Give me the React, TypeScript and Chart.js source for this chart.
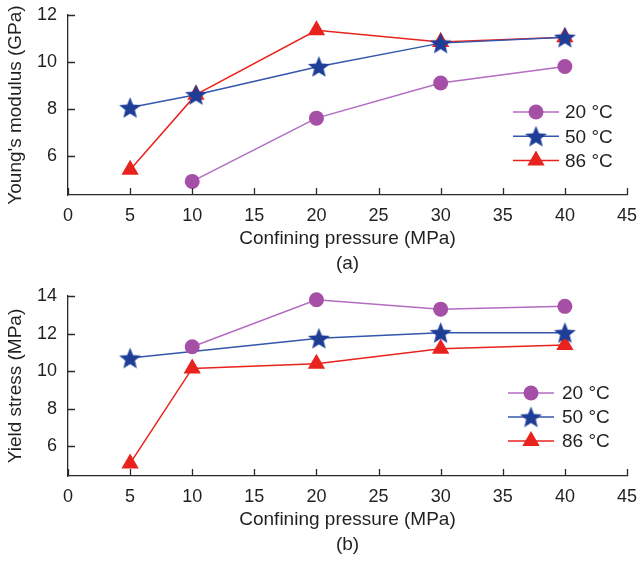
import React, { useEffect, useRef } from 'react';
import { Chart, registerables } from 'chart.js';
Chart.register(...registerables);

// ---------- data ----------
const xTicks = [0, 5, 10, 15, 20, 25, 30, 35, 40, 45];
const seriesLabels = ['20 °C', '50 °C', '86 °C'];

// (a) Young's modulus (GPa)
const pressA20 = [10, 20, 30, 40];
const youngA20 = [4.9, 7.6, 9.1, 9.8];
const pressA50 = [5, 10.3, 20.2, 30, 40];
const youngA50 = [8.05, 8.6, 9.8, 10.8, 11.05];
const pressA86 = [5, 10.3, 20, 30, 40];
const youngA86 = [5.4, 8.6, 11.35, 10.85, 11.05];
const yTicksA = [6, 8, 10, 12];

// (b) Yield stress (MPa)
const pressB20 = [10, 20, 30, 40];
const yieldB20 = [11.3, 13.8, 13.3, 13.45];
const pressB50 = [5, 20.2, 30, 40];
const yieldB50 = [10.7, 11.75, 12.05, 12.05];
const pressB86 = [5, 10, 20, 30, 40];
const yieldB86 = [5.1, 10.15, 10.4, 11.2, 11.4];
const yTicksB = [6, 8, 10, 12, 14];

// ---------- styles ----------
const FONT = "'Liberation Sans', Arial, Helvetica, sans-serif";
const TEXT = '#231f20';
const AXIS = '#2a2a2a';
const PURPLE_FILL = '#a54fa6';
const PURPLE_LINE = '#b36cc1';
const BLUE_FILL = '#1d3d97';
const BLUE_LINE = '#3456ab';
const RED = '#e8231d';
const TICK_SIZE = 18;
const TITLE_SIZE = 19;

function makeStar(color: string, R: number, r: number) {
  const c = document.createElement('canvas');
  const s = Math.ceil(R * 2 + 2);
  c.width = s;
  c.height = s;
  const ctx = c.getContext('2d')!;
  const cx = s / 2;
  const cy = s / 2 + 1;
  ctx.beginPath();
  for (let i = 0; i < 10; i++) {
    const a = -Math.PI / 2 + (i * Math.PI) / 5;
    const rad = i % 2 === 0 ? R : r;
    const px = cx + Math.cos(a) * rad;
    const py = cy + Math.sin(a) * rad;
    if (i === 0) ctx.moveTo(px, py);
    else ctx.lineTo(px, py);
  }
  ctx.closePath();
  ctx.fillStyle = color;
  ctx.fill();
  return c;
}

const inwardTicks = {
  id: 'inwardTicks',
  afterDraw(chart: any, _args: any, opts: any) {
    const { ctx, chartArea } = chart;
    const xs = chart.scales.x;
    const ys = chart.scales.y;
    const len = opts.length || 7;
    ctx.save();
    ctx.strokeStyle = AXIS;
    ctx.lineWidth = 1.3;
    ctx.beginPath();
    xs.ticks.forEach((t: any) => {
      const px = Math.round(xs.getPixelForValue(t.value)) + 0.5;
      ctx.moveTo(px, chartArea.bottom);
      ctx.lineTo(px, chartArea.bottom - len);
    });
    ys.ticks.forEach((t: any) => {
      const py = Math.round(ys.getPixelForValue(t.value)) + 0.5;
      ctx.moveTo(chartArea.left, py);
      ctx.lineTo(chartArea.left + len, py);
    });
    ctx.stroke();
    ctx.restore();
  },
};

const lineLegend = {
  id: 'lineLegend',
  afterDraw(chart: any, _args: any, opts: any) {
    const { ctx } = chart;
    const { x, y, dy, lineLen, textGap } = opts;
    ctx.save();
    chart.data.datasets.forEach((ds: any, i: number) => {
      const cy = y + i * dy;
      ctx.strokeStyle = ds.borderColor;
      ctx.lineWidth = ds.borderWidth;
      ctx.beginPath();
      ctx.moveTo(x, cy);
      ctx.lineTo(x + lineLen, cy);
      ctx.stroke();
      const mx = x + lineLen / 2;
      const style = ds.pointStyle;
      ctx.fillStyle = ds.pointBackgroundColor;
      if (style === 'circle') {
        ctx.beginPath();
        ctx.arc(mx, cy, ds.pointRadius, 0, Math.PI * 2);
        ctx.fill();
      } else if (style === 'triangle') {
        const r = ds.pointRadius;
        ctx.beginPath();
        ctx.moveTo(mx, cy - r);
        ctx.lineTo(mx + Math.sin((2 * Math.PI) / 3) * r, cy + r / 2);
        ctx.lineTo(mx - Math.sin((2 * Math.PI) / 3) * r, cy + r / 2);
        ctx.closePath();
        ctx.fill();
      } else if (style && style.width) {
        ctx.drawImage(style, mx - style.width / 2, cy - style.height / 2);
      }
      ctx.fillStyle = TEXT;
      ctx.font = `${TITLE_SIZE}px ${FONT}`;
      ctx.textAlign = 'left';
      ctx.textBaseline = 'middle';
      ctx.fillText(ds.label, x + lineLen + textGap, cy + 1);
    });
    ctx.restore();
  },
};

function series(label: string, xs: number[], ys: number[], kind: string, star: any, order: number) {
  const base: any = {
    label,
    data: xs.map((x, i) => ({ x, y: ys[i] })),
    borderWidth: 1.5,
    order,
    clip: false,
  };
  if (kind === 'circle') {
    return { ...base, borderColor: PURPLE_LINE, pointStyle: 'circle', pointRadius: 7.5, pointBackgroundColor: PURPLE_FILL, pointBorderColor: PURPLE_FILL, pointBorderWidth: 0 };
  }
  if (kind === 'star') {
    return { ...base, borderColor: BLUE_LINE, pointStyle: star, pointRadius: 11, pointBackgroundColor: BLUE_FILL, pointBorderColor: BLUE_FILL, pointBorderWidth: 0 };
  }
  return { ...base, borderColor: RED, pointStyle: 'triangle', pointRadius: 10, pointBackgroundColor: RED, pointBorderColor: RED, pointBorderWidth: 0 };
}

function makeConfig(p: any): any {
  return {
    type: 'line',
    data: { datasets: p.datasets },
    options: {
      responsive: false,
      animation: false,
      layout: { padding: { top: 15, right: 15, left: 0, bottom: 0 } },
      plugins: {
        legend: { display: false },
        tooltip: { enabled: false },
        inwardTicks: { length: 7 },
        lineLegend: p.legend,
      },
      scales: {
        x: {
          type: 'linear',
          min: 0,
          max: 45,
          afterBuildTicks: (s: any) => { s.ticks = xTicks.map((v) => ({ value: v })); },
          afterFit: (s: any) => { s.height = 86; s.paddingLeft = 0; s.paddingRight = 0; },
          grid: { display: false, drawTicks: false },
          border: { display: true, color: AXIS, width: 1.3 },
          ticks: { padding: 10, color: TEXT, font: { size: TICK_SIZE, family: FONT }, maxRotation: 0 },
          title: {
            display: true,
            text: ['Confining pressure (MPa)', p.sub],
            color: TEXT,
            font: { size: TITLE_SIZE, family: FONT, lineHeight: 25 / TITLE_SIZE },
            padding: { top: 0, bottom: 4.5 },
          },
        },
        y: {
          type: 'linear',
          min: p.yMin,
          max: p.yMax,
          afterBuildTicks: (s: any) => { s.ticks = p.yTicks.map((v: number) => ({ value: v })); },
          afterFit: (s: any) => { s.width = 68; s.paddingTop = 0; s.paddingBottom = 0; },
          grid: { display: false, drawTicks: false },
          border: { display: true, color: AXIS, width: 1.3 },
          ticks: { padding: 11, color: TEXT, font: { size: TICK_SIZE, family: FONT } },
          title: {
            display: true,
            text: p.yTitle,
            color: TEXT,
            font: { size: TITLE_SIZE, family: FONT },
            padding: { top: 4, bottom: 0 },
          },
        },
      },
    },
    plugins: [inwardTicks, lineLegend],
  };
}

function ChartCanvas({ build }: { build: (star: any) => any }) {
  const ref = useRef<HTMLCanvasElement | null>(null);
  useEffect(() => {
    document.body.style.margin = '0';
    const star = makeStar(BLUE_FILL, 11.5, 5);
    const chart = new Chart(ref.current!, build(star));
    return () => chart.destroy();
  }, []);
  return <canvas ref={ref} width={642} height={281} style={{ display: 'block', width: 642, height: 281 }} />;
}

const buildA = (star: any) =>
  makeConfig({
    sub: '(a)',
    yTitle: "Young's modulus (GPa)",
    yMin: 4.32,
    yMax: 12,
    yTicks: yTicksA,
    legend: { x: 513, y: 112, dy: 24.3, lineLen: 46, textGap: 6 },
    datasets: [
      series(seriesLabels[0], pressA20, youngA20, 'circle', star, 2),
      series(seriesLabels[1], pressA50, youngA50, 'star', star, 0),
      series(seriesLabels[2], pressA86, youngA86, 'triangle', star, 1),
    ],
  });

const buildB = (star: any) =>
  makeConfig({
    sub: '(b)',
    yTitle: 'Yield stress (MPa)',
    yMin: 4.43,
    yMax: 14,
    yTicks: yTicksB,
    legend: { x: 508, y: 112, dy: 24, lineLen: 46, textGap: 8 },
    datasets: [
      series(seriesLabels[0], pressB20, yieldB20, 'circle', star, 0),
      series(seriesLabels[1], pressB50, yieldB50, 'star', star, 1),
      series(seriesLabels[2], pressB86, yieldB86, 'triangle', star, 2),
    ],
  });

export default function App() {
  return (
    <div style={{ width: 642, height: 562, background: '#fff' }}>
      <ChartCanvas build={buildA} />
      <ChartCanvas build={buildB} />
    </div>
  );
}
